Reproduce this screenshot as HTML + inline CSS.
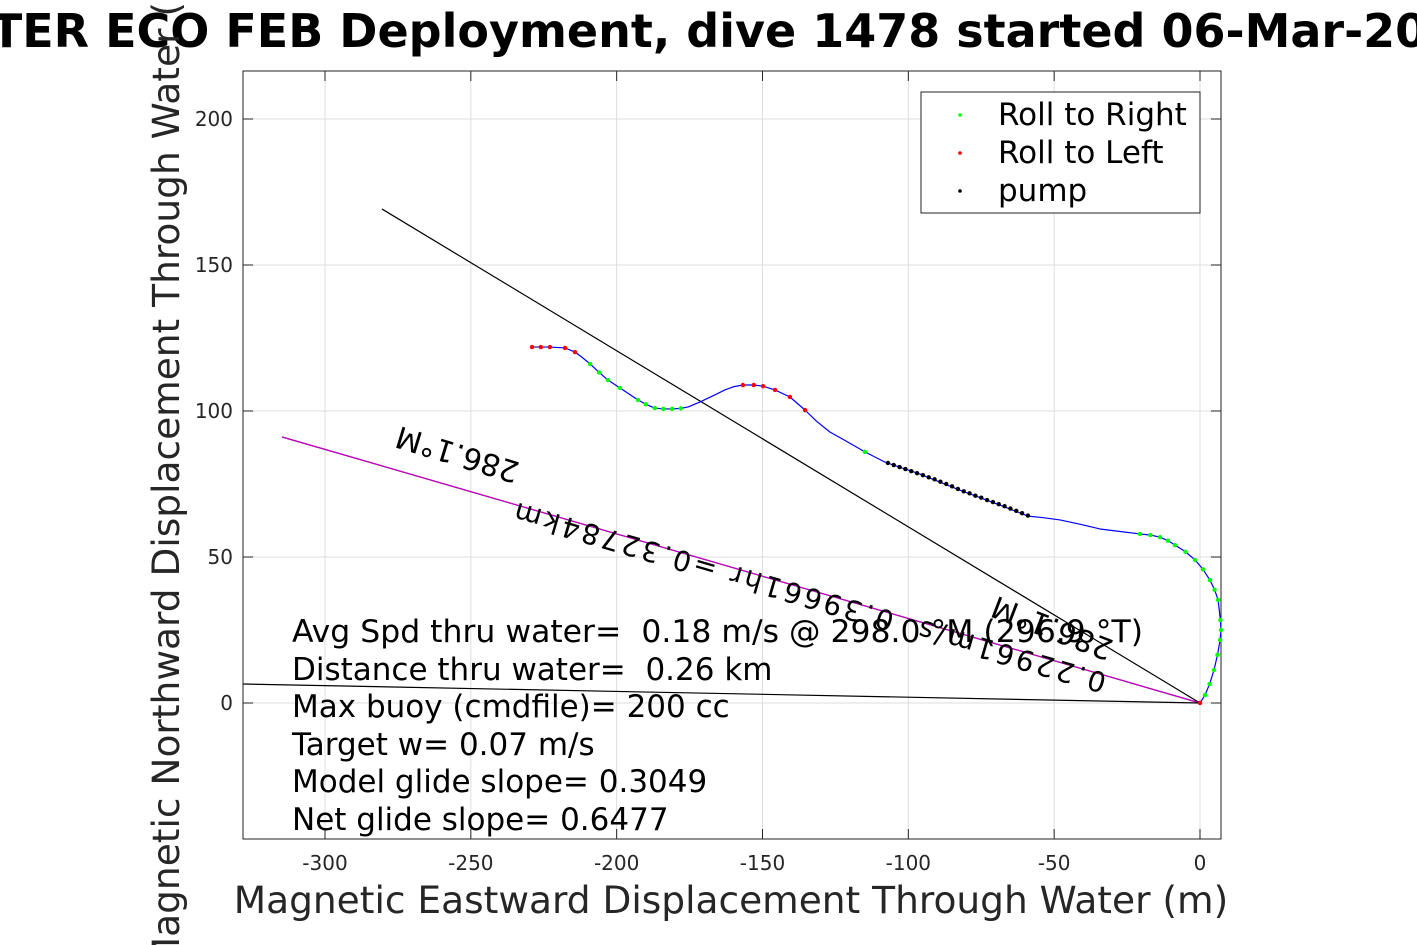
<!DOCTYPE html>
<html><head><meta charset="utf-8"><style>
body{margin:0;background:#fff}
svg{display:block;font-family:"DejaVu Sans","Liberation Sans",sans-serif}
text{white-space:pre}
</style></head><body>
<svg id="chart" width="1417" height="945" viewBox="0 0 1417 945" xmlns="http://www.w3.org/2000/svg">
<text x="709" y="47" font-size="46" font-weight="bold" text-anchor="middle">TER ECO FEB Deployment, dive 1478 started 06-Mar-20</text>
<rect x="243" y="71" width="978" height="768" fill="#fff" stroke="#222" stroke-width="1"/>
<g id="grid"></g>
<g id="ticks"></g>
<g id="lines"></g>
<g id="track"></g>
<g id="marks"></g>
<text transform="translate(521,463) rotate(197)" font-size="30">286.1°M</text>
<text transform="translate(1108,674) rotate(196.2)" font-size="28" textLength="615">0.22961m/s  0.39661hr =0.32784km</text>
<text transform="translate(1115,641) rotate(201)" font-size="30">286.1°M</text>
<g font-size="31">
<text x="292" y="642" xml:space="preserve" textLength="851" lengthAdjust="spacingAndGlyphs">Avg Spd thru water=  0.18 m/s @ 298.0 °M (296.9 °T)</text>
<text x="292" y="680" xml:space="preserve">Distance thru water=  0.26 km</text>
<text x="292" y="717">Max buoy (cmdfile)= 200 cc</text>
<text x="292" y="755">Target w= 0.07 m/s</text>
<text x="292" y="792">Model glide slope= 0.3049</text>
<text x="292" y="830">Net glide slope= 0.6477</text>
</g>
<g>
<rect x="921" y="92" width="279" height="121" fill="#fff" stroke="#222"/>
<circle cx="960" cy="115" r="1.8" fill="#0f0"/><text x="998" y="125" font-size="31">Roll to Right</text>
<circle cx="960" cy="153" r="1.8" fill="red"/><text x="998" y="163" font-size="31">Roll to Left</text>
<circle cx="960" cy="191" r="1.8" fill="#000"/><text x="998" y="201" font-size="31">pump</text>
</g>
<text x="731" y="913" font-size="37.5" text-anchor="middle" fill="#262626">Magnetic Eastward Displacement Through Water (m)</text>
<text transform="translate(179,460) rotate(-90)" font-size="37.5" text-anchor="middle" fill="#262626">Magnetic Northward Displacement Through Water (m)</text>
<script>
const xTicks=[-300,-250,-200,-150,-100,-50,0];
const yTicks=[0,50,100,150,200];
const trackX=[0,1.7,3.3,4.8,6,6.9,7.2,7,6.2,5,3.4,1,-1.7,-5,-8.6,-11,-13.7,-17,-20.6,-27,-34.3,-41,-48,-54,-59,-68.6,-82.3,-96,-108,-114.9,-121,-126.9,-131.5,-135.4,-140.6,-145.7,-149.8,-153,-156.7,-160,-162.9,-167,-171.4,-175.5,-178,-181,-184,-186.9,-190,-192.7,-198.9,-203,-206,-209.1,-212,-214.3,-217.7,-222.9,-226,-229];
const trackY=[0,2.7,6.5,11.3,16.5,21.6,25,28.4,35.3,38.8,42.1,45.8,49,51.8,54.1,55.6,56.8,57.5,57.9,58.7,59.6,61.2,62.7,63.5,64,67.8,72.9,78.4,82.5,86,89.5,92.8,96.5,100.3,104.8,107.2,108.5,108.9,108.9,108.3,107.2,105.2,103.1,101.4,100.9,100.7,100.7,101,102.3,103.8,107.9,110.6,113.2,116.1,118.5,120.2,121.6,121.9,121.9,121.9];
const greenIdx=[1,2,3,4,5,6,7,8,9,10,11,12,13,14,15,16,17,18,29,44,45,46,47,48,49,50,51,52,53];
const redIdx=[0,33,34,35,36,37,38,55,56,57,58,59];
const pumpX=[-107,-105,-103,-101,-99,-97,-95,-93,-91,-89,-87,-85,-83,-81,-79,-77,-75,-73,-71,-69,-67,-65,-63,-61,-59];
const pumpY=[82.2,81.5,80.8,80.1,79.4,78.7,78,77.3,76.6,75.8,75,74.2,73.3,72.5,71.8,71,70.3,69.5,68.8,68.1,67.4,66.6,65.8,65,64.2];
const lineEnds=[[-280.5,169.2,'#000'],[-314.7,91.1,'#000'],[-314.7,91.1,'#c0c'],[-328,6.5,'#000']];
const X=v=>1200+v*2.9167, Y=v=>703-v*2.92;
const NS='http://www.w3.org/2000/svg';
function mk(t,a,p){const e=document.createElementNS(NS,t);for(const k in a)e.setAttribute(k,a[k]);p.appendChild(e);return e;}
const g=document.getElementById('grid'),tk=document.getElementById('ticks');
xTicks.forEach(v=>{const l=mk('line',{x1:X(v),x2:X(v),y1:71,y2:839,stroke:'#ddd'},g);


const t=mk('text',{x:X(v),y:870,'font-size':20,'text-anchor':'middle',fill:'#262626'},tk);t.textContent=v;


mk('line',{x1:X(v),x2:X(v),y1:839,y2:829,stroke:'#222'},tk);mk('line',{x1:X(v),x2:X(v),y1:71,y2:81,stroke:'#222'},tk);});
yTicks.forEach(v=>{const l=mk('line',{x1:243,x2:1221,y1:Y(v),y2:Y(v),stroke:'#ddd'},g);


const t=mk('text',{x:233,y:Y(v)+7,'font-size':20,'text-anchor':'end',fill:'#262626'},tk);t.textContent=v;


mk('line',{x1:243,x2:253,y1:Y(v),y2:Y(v),stroke:'#222'},tk);mk('line',{x1:1221,x2:1211,y1:Y(v),y2:Y(v),stroke:'#222'},tk);});
const ln=document.getElementById('lines');
lineEnds.forEach(e=>{const l=mk('line',{x1:X(0),y1:Y(0),x2:X(e[0]),y2:Y(e[1]),stroke:e[2],'stroke-width':1.2},ln);

});
const tr=document.getElementById('track');
const p=mk('polyline',{points:trackX.map((x,i)=>X(x)+','+Y(trackY[i])).join(' '),fill:'none',stroke:'#00f','stroke-width':1.2,'stroke-linejoin':'round'},tr);


const mg=document.getElementById('marks');
greenIdx.forEach(i=>{const c=mk('circle',{cx:X(trackX[i]),cy:Y(trackY[i]),r:2.2,fill:'#0f0'},mg);

});
redIdx.forEach(i=>{const c=mk('circle',{cx:X(trackX[i]),cy:Y(trackY[i]),r:2.2,fill:'red'},mg);

});
pumpX.forEach((x,i)=>{const c=mk('circle',{cx:X(x),cy:Y(pumpY[i]),r:2.2,fill:'#000'},mg);

});
</script>
</svg>
</body></html>
